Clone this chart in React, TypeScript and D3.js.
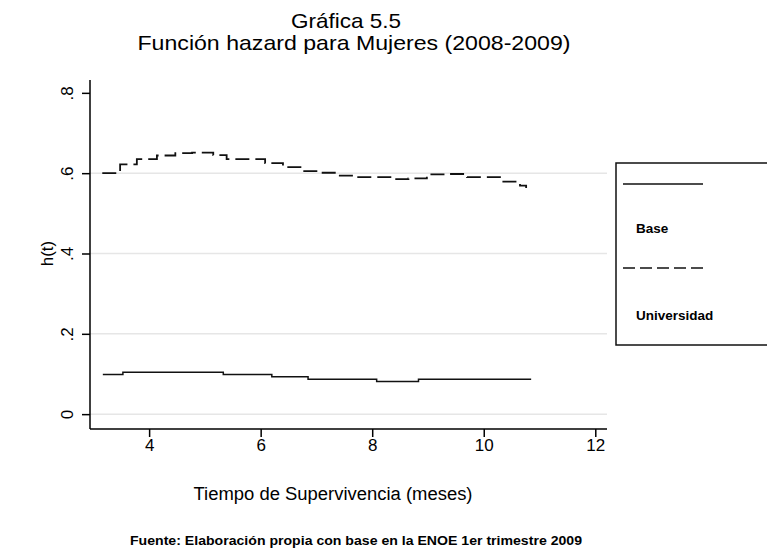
import React, { useEffect, useRef } from 'react';
import * as d3 from 'd3';

// hazard estimates (time in months, h(t))
const baseTime = [3.17, 3.53, 5.33, 6.2, 6.85, 8.08, 8.83, 10.85];
const baseHazard = [0.099, 0.104, 0.099, 0.093, 0.087, 0.0815, 0.087, 0.087];

const uniTime = [3.16, 3.48, 3.78, 4.14, 4.47, 4.77, 5.15, 5.39, 5.75, 6.08, 6.4, 6.74, 7.07, 7.37, 7.73, 8.08, 8.35, 8.65, 8.98, 9.34, 9.7, 10.06, 10.33, 10.65, 10.76];
const uniHazard = [0.6, 0.622, 0.635, 0.644, 0.65, 0.651, 0.645, 0.635, 0.635, 0.625, 0.615, 0.605, 0.601, 0.594, 0.59, 0.59, 0.585, 0.587, 0.597, 0.598, 0.59, 0.59, 0.579, 0.569, 0.563];

const xTicks = [4, 6, 8, 10, 12];
const yTicks = [0, 0.2, 0.4, 0.6, 0.8];
const yTickLabels = ['0', '.2', '.4', '.6', '.8'];
const legendLabels = ['Base', 'Universidad'];

export default function App() {
  const svgRef = useRef<SVGSVGElement>(null);

  useEffect(() => {
    const svg = d3.select(svgRef.current);
    svg.selectAll('*').remove();
    const font = 'Liberation Sans, Arial, sans-serif';

    const left = 90, right = 607, top = 80, bottom = 429;
    const x = d3.scaleLinear().domain([2.94, 12.21]).range([left, right]);
    const y = d3.scaleLinear().domain([-0.037, 0.832]).range([bottom, top]);

    svg.append('rect').attr('width', 767).attr('height', 555).attr('fill', '#fff');

    // gridlines
    svg.append('g')
      .selectAll('line')
      .data(yTicks.slice(0, 4))
      .join('line')
      .attr('x1', left).attr('x2', right)
      .attr('y1', (d) => y(d)).attr('y2', (d) => y(d))
      .attr('stroke', '#e6e6e6').attr('stroke-width', 1.5);

    // axes
    const yAxis = svg.append('g').attr('transform', `translate(${left},0)`)
      .call(d3.axisLeft(y).tickValues(yTicks).tickSize(8).tickFormat((d, i) => yTickLabels[i]));
    yAxis.select('.domain').attr('d', `M0,${top}V${bottom}`).attr('stroke-width', 1.5);
    yAxis.selectAll('.tick line').attr('stroke-width', 1.5);
    yAxis.selectAll('.tick text')
      .attr('font-family', font).attr('font-size', 17).attr('fill', '#000')
      .attr('x', 0).attr('dy', 0).attr('text-anchor', 'middle')
      .attr('transform', 'translate(-17,0) rotate(-90)');

    const xAxis = svg.append('g').attr('transform', `translate(0,${bottom})`)
      .call(d3.axisBottom(x).tickValues(xTicks).tickSize(8).tickFormat(d3.format('d')));
    xAxis.select('.domain').attr('d', `M${left},0H${right}`).attr('stroke-width', 1.5);
    xAxis.selectAll('.tick line').attr('stroke-width', 1.5);
    xAxis.selectAll('.tick text')
      .attr('font-family', font).attr('font-size', 17).attr('fill', '#000').attr('y', 10);

    const line = d3.line<[number, number]>()
      .x((d) => x(d[0])).y((d) => y(d[1]))
      .curve(d3.curveStepAfter);

    const basePts = baseTime.map((t, i) => [t, baseHazard[i]] as [number, number]);
    const uniPts = uniTime.map((t, i) => [t, uniHazard[i]] as [number, number]);

    svg.append('path').attr('d', line(basePts))
      .attr('fill', 'none').attr('stroke', '#111').attr('stroke-width', 1.5);
    svg.append('path').attr('d', line(uniPts))
      .attr('fill', 'none').attr('stroke', '#111').attr('stroke-width', 1.8)
      .attr('stroke-dasharray', '14,6');

    // titles
    svg.append('text').attr('x', 346).attr('y', 28).attr('text-anchor', 'middle')
      .attr('font-family', font).attr('font-size', 21)
      .attr('textLength', 110).attr('lengthAdjust', 'spacingAndGlyphs').text('Gráfica 5.5');
    svg.append('text').attr('x', 354).attr('y', 50).attr('text-anchor', 'middle')
      .attr('font-family', font).attr('font-size', 21)
      .attr('textLength', 433).attr('lengthAdjust', 'spacingAndGlyphs')
      .text('Función hazard para Mujeres (2008-2009)');

    svg.append('text').attr('x', 333).attr('y', 500).attr('text-anchor', 'middle')
      .attr('font-family', font).attr('font-size', 18)
      .attr('textLength', 279).attr('lengthAdjust', 'spacingAndGlyphs')
      .text('Tiempo de Supervivencia (meses)');
    svg.append('text').attr('transform', `translate(53,${y(0.4)}) rotate(-90)`).attr('text-anchor', 'middle')
      .attr('font-family', font).attr('font-size', 17).text('h(t)');

    svg.append('text').attr('x', 356).attr('y', 545).attr('text-anchor', 'middle')
      .attr('font-family', font).attr('font-size', 13.5).attr('font-weight', 'bold')
      .attr('textLength', 452).attr('lengthAdjust', 'spacingAndGlyphs')
      .text('Fuente: Elaboración propia con base en la ENOE 1er trimestre 2009');

    // legend
    const lg = svg.append('g');
    lg.append('rect').attr('x', 616).attr('y', 163).attr('width', 160).attr('height', 182)
      .attr('fill', '#fff').attr('stroke', '#111').attr('stroke-width', 1.5);
    const rows = [
      { ly: 184, ty: 233, dash: null },
      { ly: 268, ty: 320, dash: '12,5' },
    ];
    rows.forEach((r, i) => {
      lg.append('line').attr('x1', 623).attr('x2', 703).attr('y1', r.ly).attr('y2', r.ly)
        .attr('stroke', '#111').attr('stroke-width', 1.6)
        .attr('stroke-dasharray', r.dash);
      lg.append('text').attr('x', 636).attr('y', r.ty)
        .attr('font-family', font).attr('font-size', 13.5).attr('font-weight', 'bold')
        .text(legendLabels[i]);
    });
  }, []);

  return <svg ref={svgRef} width={767} height={555} style={{ position: 'absolute', left: 0, top: 0 }} />;
}
